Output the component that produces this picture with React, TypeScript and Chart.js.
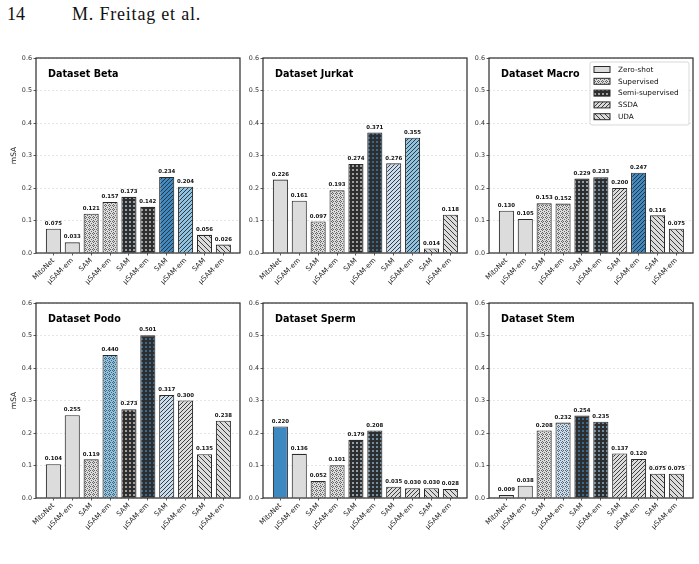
import React, { useEffect, useRef } from 'react';
import { Chart, registerables } from 'chart.js';

Chart.register(...registerables);

// ---------------- data ----------------
const methodLabels = ['MitoNet', 'μSAM-em', 'SAM', 'μSAM-em', 'SAM', 'μSAM-em', 'SAM', 'μSAM-em', 'SAM', 'μSAM-em'];
const trainingGroups = ['zero', 'zero', 'sup', 'sup', 'semi', 'semi', 'ssda', 'ssda', 'uda', 'uda'];
const legendLabels = ['Zero-shot', 'Supervised', 'Semi-supervised', 'SSDA', 'UDA'];
const legendGroups = ['zero', 'sup', 'semi', 'ssda', 'uda'];

const betaValues = [0.075, 0.033, 0.121, 0.157, 0.173, 0.142, 0.234, 0.204, 0.056, 0.026];
const jurkatValues = [0.226, 0.161, 0.097, 0.193, 0.274, 0.371, 0.276, 0.355, 0.014, 0.118];
const macroValues = [0.130, 0.105, 0.153, 0.152, 0.229, 0.233, 0.200, 0.247, 0.116, 0.075];
const podoValues = [0.104, 0.255, 0.119, 0.440, 0.273, 0.501, 0.317, 0.300, 0.135, 0.238];
const spermValues = [0.220, 0.136, 0.052, 0.101, 0.179, 0.208, 0.035, 0.030, 0.030, 0.028];
const stemValues = [0.009, 0.038, 0.208, 0.232, 0.254, 0.235, 0.137, 0.120, 0.075, 0.075];

const panelTitles = ['Dataset Beta', 'Dataset Jurkat', 'Dataset Macro', 'Dataset Podo', 'Dataset Sperm', 'Dataset Stem'];
const panelValues = [betaValues, jurkatValues, macroValues, podoValues, spermValues, stemValues];

const yMin = 0;
const yMax = 0.6;
const yStep = 0.1;
const yLabel = 'mSA';

// ---------------- style / layout ----------------
const FONT = '"DejaVu Sans", sans-serif';
const GRAY = '#dcdcdc';
const RANK_COLORS = ['#3f89c3', '#8fc3e3', '#c8ddf0'];
const EDGE = '#2a2a2a';
const PLOT_LEFTS = [36, 263, 489];
const PLOT_TOPS = [58, 303];
const PLOT_W = 204;
const PLOT_H = 195;
const Y_AXIS_W = 36;
const X_AXIS_H = 55;
const PAD_T = 6;
const PAD_R = 6;

function makeFill(group: string, face: string): any {
  if (group === 'zero') return face;
  const tile = document.createElement('canvas');
  const s = group === 'uda' ? 5 : 4;
  tile.width = s;
  tile.height = s;
  const c = tile.getContext('2d')!;
  if (group === 'semi') {
    c.fillStyle = '#2e2e2e';
    c.fillRect(0, 0, s, s);
    c.fillStyle = face;
    c.fillRect(1, 1, 2, 2);
    c.fillStyle = 'rgba(46,46,46,0.35)';
    c.fillRect(1, 1, 2, 2);
  } else {
    c.fillStyle = face;
    c.fillRect(0, 0, s, s);
    if (group === 'sup') {
      c.fillStyle = 'rgba(50,50,50,0.7)';
      c.fillRect(1, 0, 1, 1);
      c.fillRect(0, 1, 1, 1);
      c.fillRect(2, 1, 1, 1);
      c.fillRect(1, 2, 1, 1);
      c.fillRect(3, 3, 1, 1);
    } else {
      c.strokeStyle = '#2a2a2a';
      c.lineWidth = 0.9;
      c.beginPath();
      if (group === 'ssda') {
        c.moveTo(0, s); c.lineTo(s, 0);
        c.moveTo(-1, 1); c.lineTo(1, -1);
        c.moveTo(s - 1, s + 1); c.lineTo(s + 1, s - 1);
      } else {
        c.moveTo(0, 0); c.lineTo(s, s);
        c.moveTo(-1, s - 1); c.lineTo(1, s + 1);
        c.moveTo(s - 1, -1); c.lineTo(s + 1, 1);
      }
      c.stroke();
    }
  }
  const ctx = document.createElement('canvas').getContext('2d')!;
  return ctx.createPattern(tile, 'repeat');
}

function rankColors(values: number[]): string[] {
  const order = values.map((v, i) => i).sort((a, b) => values[b] - values[a]);
  const cols = values.map(() => GRAY);
  order.slice(0, 3).forEach((idx, r) => { cols[idx] = RANK_COLORS[r]; });
  return cols;
}

export default function App() {
  const refs = useRef<(HTMLCanvasElement | null)[]>([]);

  useEffect(() => {
    const charts: Chart[] = [];
    panelValues.forEach((values, p) => {
      const canvas = refs.current[p];
      if (!canvas) return;
      const col = p % 3;
      const faces = rankColors(values);
      const fills = values.map((_, i) => makeFill(trainingGroups[i], faces[i]));
      const title = panelTitles[p];
      const showLegend = p === 2;

      const panelPlugin = {
        id: 'panel' + p,
        afterDatasetsDraw(chart: any) {
          const ctx = chart.ctx;
          const meta = chart.getDatasetMeta(0);
          ctx.save();
          ctx.fillStyle = '#111';
          ctx.font = `bold 5.4px ${FONT}`;
          ctx.textAlign = 'center';
          ctx.textBaseline = 'bottom';
          meta.data.forEach((bar: any, i: number) => {
            ctx.fillText(values[i].toFixed(3), bar.x, bar.y - 2.5);
          });
          ctx.restore();
        },
        afterDraw(chart: any) {
          const ctx = chart.ctx;
          const ca = chart.chartArea;
          ctx.save();
          ctx.strokeStyle = '#2b2b2b';
          ctx.lineWidth = 1.2;
          ctx.strokeRect(ca.left, ca.top, ca.right - ca.left, ca.bottom - ca.top);
          ctx.fillStyle = '#000';
          ctx.font = `bold 9.6px ${FONT}`;
          ctx.textAlign = 'left';
          ctx.textBaseline = 'middle';
          ctx.fillText(title, ca.left + 12, ca.top + 16.5);
          if (col === 0) {
            ctx.save();
            ctx.translate(ca.left - 22, (ca.top + ca.bottom) / 2);
            ctx.rotate(-Math.PI / 2);
            ctx.font = `7.5px ${FONT}`;
            ctx.fillStyle = '#222';
            ctx.textAlign = 'center';
            ctx.textBaseline = 'middle';
            ctx.fillText(yLabel, 0, 0);
            ctx.restore();
          }
          if (showLegend) {
            const bx = ca.right - 103;
            const by = ca.top + 4;
            const bw = 99;
            const bh = 63;
            ctx.fillStyle = 'rgba(255,255,255,0.85)';
            ctx.strokeStyle = '#cfcfcf';
            ctx.lineWidth = 0.8;
            ctx.beginPath();
            (ctx as any).roundRect ? (ctx as any).roundRect(bx, by, bw, bh, 2) : ctx.rect(bx, by, bw, bh);
            ctx.fill();
            ctx.stroke();
            legendLabels.forEach((lab, k) => {
              const cy = by + 7.5 + k * 11.8;
              ctx.fillStyle = makeFill(legendGroups[k], GRAY);
              ctx.fillRect(bx + 4, cy - 3, 16, 6);
              ctx.strokeStyle = EDGE;
              ctx.lineWidth = 1;
              ctx.strokeRect(bx + 4, cy - 3, 16, 6);
              ctx.fillStyle = '#111';
              ctx.font = `7.3px ${FONT}`;
              ctx.textAlign = 'left';
              ctx.textBaseline = 'middle';
              ctx.fillText(lab, bx + 28, cy + 0.5);
            });
          }
          ctx.restore();
        },
      };

      const chart = new Chart(canvas, {
        type: 'bar',
        data: {
          datasets: [
            {
              data: values.map((v, i) => ({ x: i, y: v })) as any,
              backgroundColor: fills,
              borderColor: EDGE,
              borderWidth: 1.1,
              barPercentage: 0.8,
              categoryPercentage: 1,
            },
          ],
        },
        options: {
          animation: false,
          responsive: false,
          devicePixelRatio: 1,
          layout: { padding: { top: PAD_T, right: PAD_R, left: 0, bottom: 0 } },
          plugins: { legend: { display: false }, tooltip: { enabled: false }, title: { display: false } },
          scales: {
            x: {
              type: 'linear',
              min: -0.92,
              max: 9.88,
              offset: false,
              afterBuildTicks: (s: any) => {
                s.ticks = methodLabels.map((_, i) => ({ value: i }));
              },
              afterFit: (s: any) => { s.height = X_AXIS_H; },
              ticks: {
                autoSkip: false,
                maxRotation: 45,
                minRotation: 45,
                padding: 1,
                color: '#222',
                font: { family: FONT, size: 7 },
                callback: (_v: any, i: number) => methodLabels[i],
              },
              grid: { offset: false, drawOnChartArea: false, drawTicks: true, tickLength: 2.5, tickColor: '#333', tickWidth: 0.8 },
              border: { display: false },
            },
            y: {
              min: yMin,
              max: yMax,
              afterFit: (s: any) => { s.width = Y_AXIS_W; },
              ticks: {
                stepSize: yStep,
                padding: 1.5,
                color: '#333',
                font: { family: FONT, size: 6.4 },
                callback: (v: any) => Number(v).toFixed(1),
              },
              grid: { color: '#d4d4d4', lineWidth: 0.6, tickLength: 2.5, tickColor: '#333', tickWidth: 0.8 },
              border: { display: false, dash: [2, 2] },
            },
          },
        },
        plugins: [panelPlugin],
      } as any);
      charts.push(chart);
    });
    return () => charts.forEach((c) => c.destroy());
  }, []);

  return (
    <div style={{ position: 'absolute', left: 0, top: 0, width: 699, height: 564, background: '#fff', overflow: 'hidden' }}>
      <div style={{ position: 'absolute', left: 7, top: 5, fontFamily: '"Liberation Serif", serif', fontSize: 18, lineHeight: '18px', color: '#111', whiteSpace: 'nowrap' }}>
        14
      </div>
      <div style={{ position: 'absolute', left: 72, top: 5, fontFamily: '"Liberation Serif", serif', fontSize: 18, lineHeight: '18px', letterSpacing: 0.8, color: '#111', whiteSpace: 'nowrap' }}>
        M. Freitag et al.
      </div>
      {panelValues.map((_, p) => {
        const col = p % 3;
        const row = Math.floor(p / 3);
        const w = Y_AXIS_W + PLOT_W + PAD_R;
        const h = PAD_T + PLOT_H + X_AXIS_H;
        return (
          <canvas
            key={p}
            ref={(el) => { refs.current[p] = el; }}
            width={w}
            height={h}
            style={{ position: 'absolute', left: PLOT_LEFTS[col] - Y_AXIS_W, top: PLOT_TOPS[row] - PAD_T, width: w, height: h }}
          />
        );
      })}
    </div>
  );
}
